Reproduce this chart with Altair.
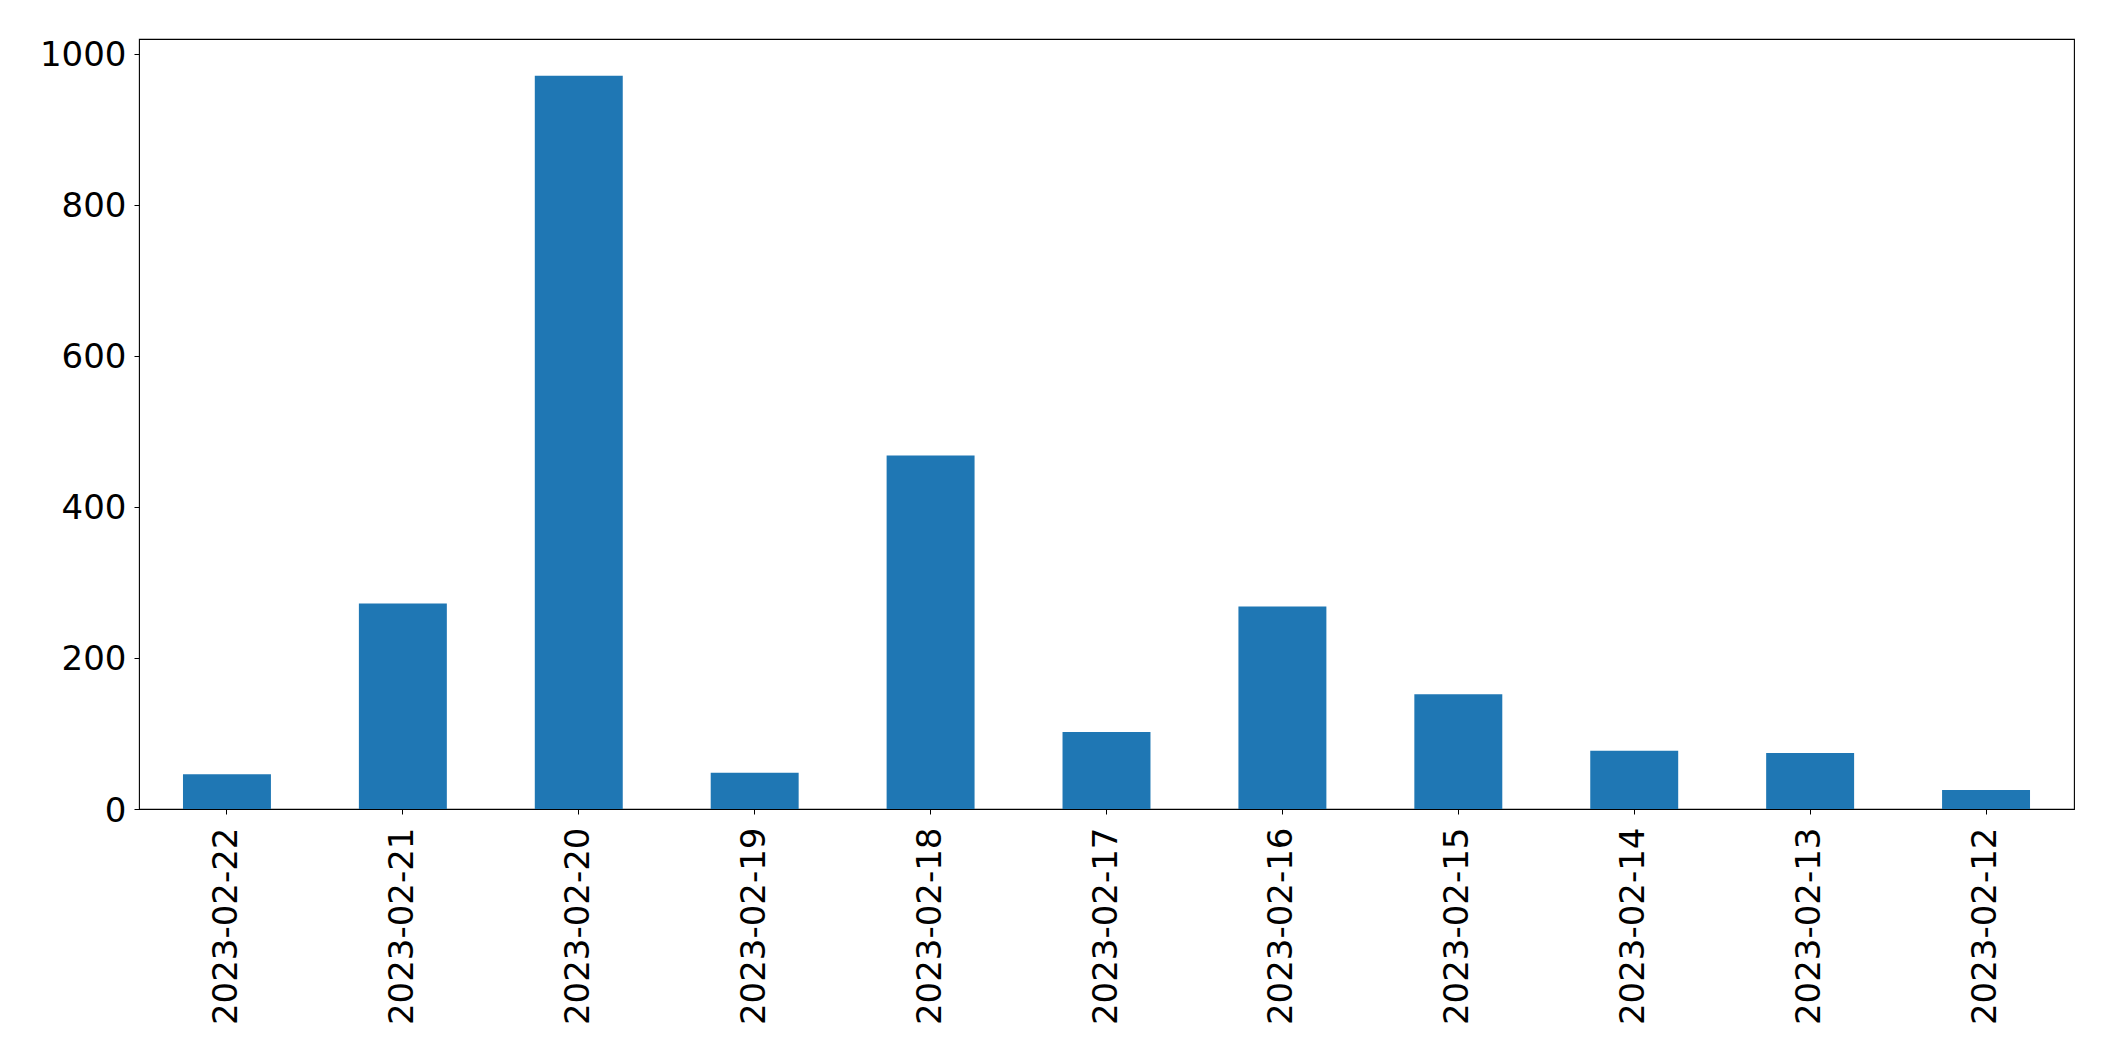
import altair as alt
import pandas as pd

dates = ["2023-02-22", "2023-02-21", "2023-02-20", "2023-02-19", "2023-02-18",
         "2023-02-17", "2023-02-16", "2023-02-15", "2023-02-14", "2023-02-13",
         "2023-02-12"]
counts = [46, 272, 971, 48, 468, 102, 268, 152, 77, 74, 25]
y_ticks = [0, 200, 400, 600, 800, 1000]

df = pd.DataFrame({"date": dates, "count": counts})

FONT = "DejaVu Sans"

chart = alt.Chart(df).mark_bar(color="#1f77b4").encode(
    x=alt.X("date:N", sort=None, title=None,
            scale=alt.Scale(paddingInner=0.5, paddingOuter=0.25),
            axis=alt.Axis(labelAngle=-90, labelAlign="right", labelBaseline="middle",
                          labelFont=FONT, labelFontSize=34, labelColor="black",
                          labelLimit=0, labelOverlap=False,
                          labelPadding=13, tickSize=5, tickColor="black", tickWidth=1,
                          domain=False, grid=False)),
    y=alt.Y("count:Q", title=None,
            scale=alt.Scale(domain=[0, 1019.5], nice=False, zero=True),
            axis=alt.Axis(values=y_ticks, format="d", labelFont=FONT, labelFontSize=34,
                          labelColor="black", labelPadding=8, labelOffset=2, tickSize=5,
                          tickColor="black", tickWidth=1, domain=False, grid=False)),
).properties(
    width=1935,
    height=770,
    autosize=alt.AutoSizeParams(type="none"),
    padding={"left": 131, "top": 31, "right": 30, "bottom": 230},
).configure(
    background="white"
).configure_view(
    stroke="black", strokeWidth=1.1
)

chart.save("out.html", embed_options={"renderer": "svg", "actions": False})
